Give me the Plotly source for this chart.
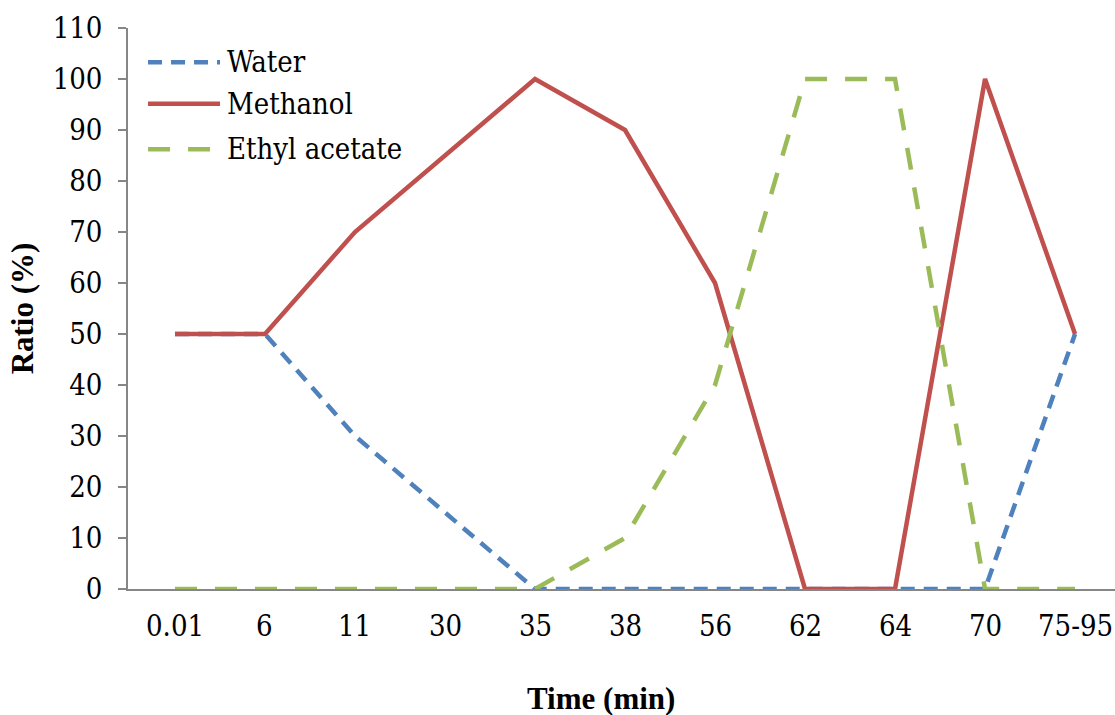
import plotly.graph_objects as go

categories = ["0.01", "6", "11", "30", "35", "38", "56", "62", "64", "70", "75-95"]
water = [50, 50, 30, 15, 0, 0, 0, 0, 0, 0, 50]
methanol = [50, 50, 70, 85, 100, 90, 60, 0, 0, 100, 50]
ethyl_acetate = [0, 0, 0, 0, 0, 10, 40, 100, 100, 0, 0]
y_ticks = list(range(0, 111, 10))

BLUE = "#4F81BD"
RED = "#C0504D"
GREEN = "#9BBB59"
FONT = "DejaVu Serif Condensed, DejaVu Serif"
BOLD_FONT = "Liberation Serif, Times New Roman"

series = [
    ("Water", water, BLUE, "14px,9px"),
    ("Methanol", methanol, RED, "solid"),
    ("Ethyl acetate", ethyl_acetate, GREEN, "22px,18px"),
]

fig = go.Figure()
for name, vals, color, dash in series:
    fig.add_trace(go.Scatter(
        x=categories, y=vals, mode="lines", name=name,
        line=dict(color=color, width=4.5, dash=dash),
        showlegend=False,
    ))

# custom legend (long samples as in the reference)
leg_y = [0.939, 0.865, 0.784]
for (name, vals, color, dash), yy in zip(series, leg_y):
    fig.add_shape(type="line", xref="paper", yref="paper",
                  x0=0.0203, x1=0.0932, y0=yy, y1=yy,
                  line=dict(color=color, width=4.5, dash=dash))
    fig.add_annotation(xref="paper", yref="paper", x=0.0985, y=yy,
                       text=name, showarrow=False, xanchor="left", yanchor="middle",
                       font=dict(family=FONT, size=29, color="black"))

# category tick labels placed at the category axis positions (by index)
for i, cat in enumerate(categories):
    fig.add_annotation(xref="x", yref="paper", x=i, y=-0.066,
                       text=cat, showarrow=False, xanchor="center", yanchor="middle",
                       font=dict(family=FONT, size=29, color="black"))

# x axis title
fig.add_annotation(xref="paper", yref="paper", x=0.479, y=-0.195,
                   text="<b>Time (min)</b>", showarrow=False,
                   xanchor="center", yanchor="middle",
                   font=dict(family=BOLD_FONT, size=31, color="black"))

fig.update_layout(
    width=1115, height=715,
    margin=dict(l=128, r=0, t=28, b=126),
    paper_bgcolor="white", plot_bgcolor="white",
    font=dict(family=FONT, size=29, color="black"),
)
fig.update_xaxes(
    type="category", range=[-0.522, 10.444],
    showline=True, linecolor="#868686", linewidth=1.5,
    ticks="", showticklabels=False,
    showgrid=False, zeroline=False,
)
fig.update_yaxes(
    range=[0, 110], tickvals=y_ticks,
    showline=True, linecolor="#868686", linewidth=1.5,
    ticks="outside", ticklen=8, tickcolor="#868686", tickwidth=1.5,
    showgrid=False, zeroline=False,
    tickfont=dict(family=FONT, size=29, color="black"),
    ticklabelstandoff=10,
    title=dict(text="<b>Ratio (%)</b>", standoff=10, font=dict(family=BOLD_FONT, size=31)),
)

fig.write_html("out.html")
